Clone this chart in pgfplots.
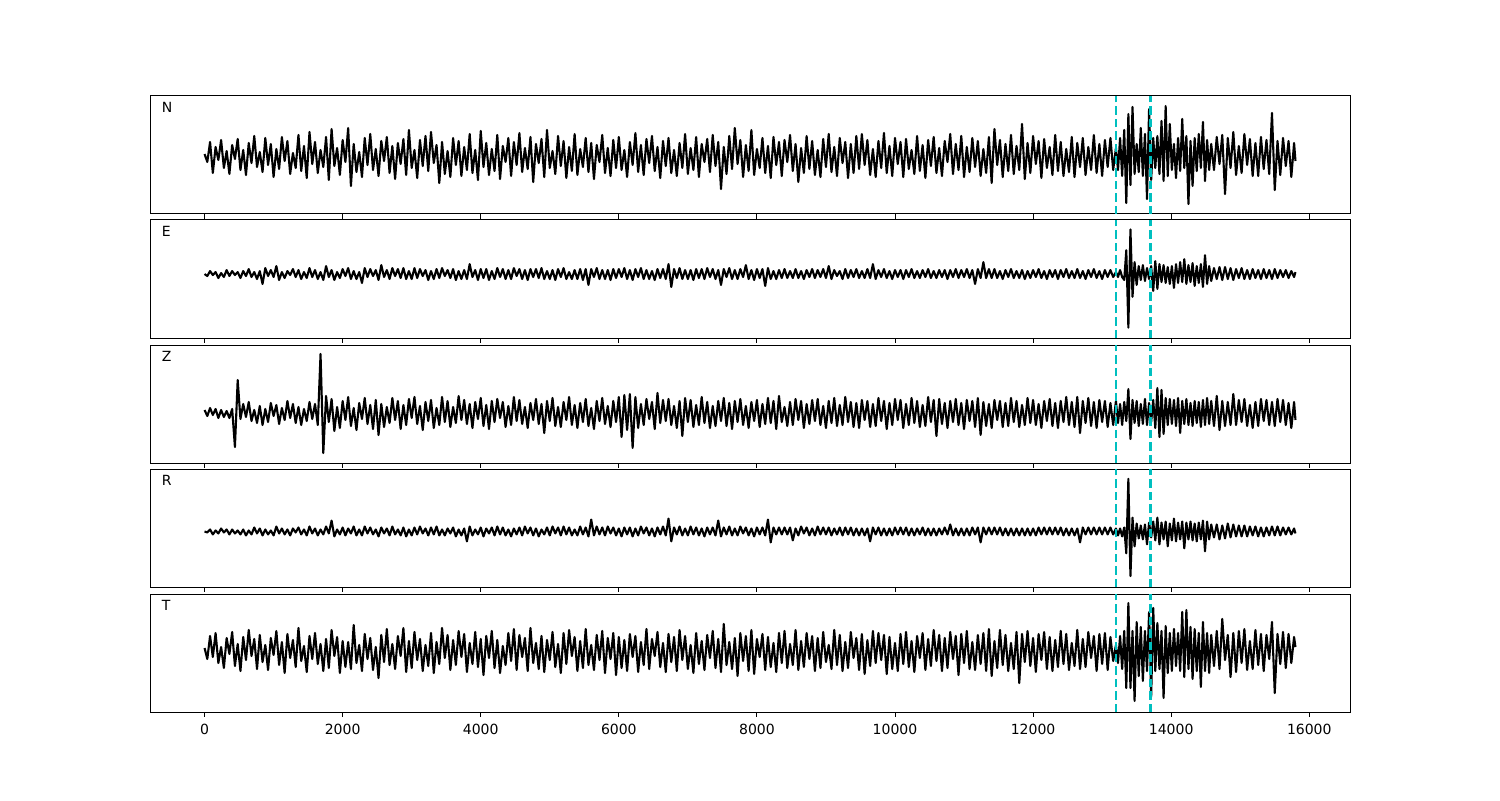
\documentclass[border=0pt]{standalone}
\usepackage{fontspec}
\setmainfont{DejaVu Sans}
\usepackage{pgfplots}
\usepackage{pgfplotstable}
\pgfplotsset{compat=1.18}
\definecolor{mplc}{rgb}{0,0.75,0.75}
\pgfplotstableread{
x N E Z R T
0 2 0 3 0 3
40 -6 -2 -3 -1 -8
80 14 3 5 2 15
120 -17 -1 -2 -3 -6
160 9 2 4 1 18
200 -4 -4 -5 -2 -12
240 16 1 3 3 4
280 -12 -3 -4 -1 -17
320 5 4 2 2 13
360 -18 -2 -5 -3 -3
400 11 3 4 2 19
440 -3 -1 -34 -2 -15
480 17 2 33 1 7
520 -14 -4 -6 -3 -20
560 6 3 9 2 14
600 -19 -2 -4 -4 -9
640 13 5 11 1 21
680 -7 -3 -8 -3 -5
720 20 2 3 4 12
760 -11 -5 -10 -2 -18
800 4 3 7 3 16
840 -16 -10 -12 -4 -11
880 18 6 4 2 6
920 -9 -2 -9 -3 -19
960 12 4 10 1 13
1000 -21 -3 -3 -4 -4
1040 7 8 8 5 20
1080 -13 -6 -11 -2 -14
1120 19 2 5 3 9
1160 -5 -4 -7 -3 -22
1200 15 3 12 2 17
1240 -18 -1 -5 -4 -7
1280 3 5 9 3 11
1320 -12 -3 -10 -1 -16
1360 21 4 6 4 23
1400 -15 -5 -12 -3 -10
1440 10 2 4 2 5
1480 -22 -4 -8 -4 -21
1520 24 6 11 5 15
1560 -8 -3 -6 -2 -8
1600 14 4 9 3 18
1640 -17 -5 -12 -4 -13
1680 6 2 59 2 7
1720 -11 -6 -40 -3 -20
1760 19 8 17 5 12
1800 -24 -3 -9 -2 -17
1840 27 4 14 11 21
1880 -10 -6 -18 -5 -5
1920 8 2 6 2 14
1960 -19 -4 -15 -3 -22
2000 16 5 12 4 10
2040 -6 -2 -7 -4 -16
2080 28 6 16 3 9
2120 -30 -5 -13 -2 -18
2160 12 3 5 5 26
2200 -16 -5 -17 -4 -12
2240 4 2 10 2 6
2280 -21 -9 -6 -4 -20
2320 18 6 15 5 17
2360 -9 -3 -11 -2 -8
2400 22 5 8 4 13
2440 -14 -2 -16 -3 -19
2480 7 4 13 2 4
2520 -20 -6 -22 -5 -27
2560 15 9 9 4 16
2600 -5 -3 -14 -2 -11
2640 19 4 6 3 22
2680 -17 -5 -10 -4 -14
2720 10 6 15 5 7
2760 -23 -2 -7 -3 -18
2800 13 5 12 2 15
2840 -8 -4 -16 -4 -5
2880 17 6 8 4 23
2920 -19 -5 -12 -5 -21
2960 26 3 14 2 10
3000 -12 -5 -5 -4 -17
3040 6 6 16 4 19
3080 -22 -4 -11 -3 -9
3120 16 5 7 5 12
3160 -10 -2 -17 -2 -20
3200 20 4 11 3 6
3240 -15 -6 -8 -4 -15
3280 24 3 13 4 18
3320 -7 -5 -15 -3 -22
3360 11 5 5 5 9
3400 -27 -4 -12 -4 -13
3440 14 6 16 2 23
3480 -18 -2 -9 -4 -7
3520 5 4 12 3 16
3560 -21 -4 -14 -2 -19
3600 18 5 6 4 11
3640 -9 -6 -10 -5 -14
3680 15 3 17 2 20
3720 -20 -5 -7 -4 -6
3760 9 4 13 3 17
3800 -14 -5 -11 -10 -21
3840 22 10 9 5 8
3880 -17 -3 -15 -4 -13
3920 6 4 11 2 19
3960 -24 -6 -6 -3 -16
4000 25 5 15 4 12
4040 -11 -4 -13 -5 -24
4080 13 5 8 3 15
4120 -19 -6 -16 -2 -7
4160 7 3 12 4 20
4200 -15 -5 -9 -4 -17
4240 21 6 14 5 11
4280 -23 -3 -5 -3 -22
4320 10 5 11 4 5
4360 -6 -5 -14 -4 -14
4400 18 4 7 2 18
4440 -20 -5 -12 -5 -10
4480 14 6 16 3 22
4520 -9 -2 -8 -3 -19
4560 23 5 13 4 16
4600 -16 -5 -11 -4 -6
4640 8 4 6 5 13
4680 -13 -6 -15 -2 -20
4720 19 5 10 4 23
4760 -26 -3 -7 -4 -12
4800 12 5 14 3 8
4840 -7 -4 -11 -5 -18
4880 17 6 9 2 15
4920 -21 -5 -20 -3 -21
4960 26 3 12 4 11
5000 -12 -5 -8 -4 -9
5040 5 4 15 5 19
5080 -18 -6 -13 -2 -16
5120 20 5 6 4 7
5160 -10 -3 -14 -4 -22
5200 15 6 11 5 18
5240 -22 -5 -7 -3 -13
5280 9 2 16 4 21
5320 -15 -5 -12 -4 -5
5360 22 4 8 2 14
5400 -19 -5 -15 -4 -20
5440 7 5 10 5 10
5480 -11 -6 -9 -3 -17
5520 18 5 14 4 22
5560 -16 -11 -13 -5 -14
5600 13 5 5 12 6
5640 -23 -3 -16 -4 -19
5680 11 6 12 5 16
5720 -6 -5 -8 -3 -9
5760 21 4 15 4 20
5800 -17 -5 -11 -4 -22
5840 8 4 7 5 13
5880 -20 -6 -14 -2 -8
5920 16 5 12 4 18
5960 -12 -4 -9 -4 -24
6000 19 5 16 3 14
6040 -14 -3 -24 -5 -17
6080 6 6 18 4 11
6120 -21 -5 -17 -3 -20
6160 14 4 19 4 17
6200 -9 -6 -35 -5 -6
6240 23 5 16 3 15
6280 -16 -3 -15 -4 -21
6320 11 6 9 5 9
6360 -19 -5 -12 -2 -14
6400 17 4 14 4 22
6440 -7 -5 -6 -4 -18
6480 20 3 11 3 12
6520 -15 -6 -16 -5 -5
6560 9 5 20 4 19
6600 -22 -4 -10 -3 -16
6640 15 5 13 5 8
6680 -10 -5 -8 -4 -21
6720 18 10 14 13 17
6760 -17 -13 -12 -10 -11
6800 6 5 7 4 14
6840 -20 -4 -15 -3 -20
6880 13 6 12 5 21
6920 -12 -5 -23 -4 -9
6960 22 4 15 3 15
7000 -18 -5 -9 -4 -18
7040 8 4 13 5 6
7080 -14 -6 -14 -3 -22
7120 19 5 8 4 18
7160 -21 -4 -12 -4 -13
7200 12 5 16 3 10
7240 -6 -5 -10 -5 -19
7280 17 6 11 4 16
7320 -16 -3 -15 -3 -7
7360 21 5 7 4 20
7400 -10 -5 -13 -4 -17
7440 14 4 12 11 12
7480 -33 -11 -8 -5 -21
7520 9 5 15 4 27
7560 -18 -3 -13 -3 -14
7600 20 6 10 5 9
7640 -13 -5 -16 -4 -18
7680 28 4 12 3 13
7720 -8 -5 -9 -4 -25
7760 16 5 14 5 18
7800 -21 -3 -12 -2 -10
7840 11 9 7 4 15
7880 -15 -5 -15 -4 -20
7920 26 4 11 3 21
7960 -19 -6 -8 -5 -23
8000 7 5 13 4 12
8040 -12 -4 -14 -3 -6
8080 18 5 9 4 17
8120 -17 -12 -11 -4 -19
8160 10 6 15 12 14
8200 -22 -5 -10 -11 -16
8240 19 3 12 4 8
8280 -9 -5 -16 -3 -21
8320 14 4 17 4 18
8360 -20 -4 -9 -3 -12
8400 16 5 6 4 20
8440 -6 -4 -13 -3 -17
8480 21 3 11 4 7
8520 -15 -4 -12 -9 -14
8560 12 5 14 3 21
8600 -26 -4 -7 -4 -19
8640 8 3 12 5 10
8680 -17 -5 -15 -2 -16
8720 20 4 9 4 18
8760 -13 -3 -11 -4 -8
8800 15 5 13 3 15
8840 -19 -4 -8 -4 -20
8880 6 4 14 5 13
8920 -21 -3 -12 -3 -17
8960 17 5 7 4 19
9000 -11 -4 -15 -3 -11
9040 22 8 12 4 6
9080 -16 -5 -10 -4 -18
9120 9 4 15 3 21
9160 -20 -2 -13 -3 -14
9200 18 3 8 4 16
9240 -7 -5 -12 -4 -20
9280 14 5 16 4 9
9320 -22 -4 -9 -3 -17
9360 12 4 11 4 19
9400 -17 -3 -14 -4 -7
9440 20 5 10 3 13
9480 -13 -4 -15 -4 -19
9520 22 3 13 3 17
9560 -9 -4 -7 -4 -23
9600 16 5 12 3 11
9640 -19 -4 -14 -10 -15
9680 7 10 9 4 20
9720 -21 -5 -13 -3 -12
9760 15 4 15 4 18
9800 -12 -3 -8 -4 -9
9840 23 5 12 3 16
9880 -17 -4 -16 -4 -23
9920 10 3 10 3 14
9960 -20 -5 -12 -4 -18
10000 18 4 14 4 8
10040 -8 -3 -7 -3 -20
10080 14 4 13 4 17
10120 -21 -5 -15 -3 -13
10160 17 4 9 4 19
10200 -13 -3 -12 -4 -16
10240 6 5 15 3 10
10280 -18 -4 -10 -4 -21
10320 20 3 12 3 15
10360 -15 -4 -14 -3 -7
10400 11 4 8 4 18
10440 -22 -3 -13 -4 -19
10480 16 5 16 3 12
10520 -10 -4 -9 -4 -15
10560 19 3 13 3 21
10600 -17 -4 -23 -4 -10
10640 8 4 14 3 16
10680 -20 -3 -11 -3 -20
10720 15 4 10 4 13
10760 -6 -5 -15 -3 -17
10800 22 4 12 7 19
10840 -18 -3 -9 -4 -8
10880 12 5 14 3 15
10920 -14 -4 -12 -4 -24
10960 20 4 10 3 17
11000 -21 -3 -16 -4 -12
11040 9 5 13 3 20
11080 -16 -4 -8 -4 -18
11120 18 4 12 4 9
11160 -11 -10 -14 -3 -19
11200 15 5 15 4 16
11240 -20 -4 -22 -11 -13
11280 7 12 11 4 18
11320 -17 -4 -13 -3 -20
11360 19 5 9 4 22
11400 -27 -4 -15 -3 -25
11440 27 5 13 4 10
11480 -9 -4 -7 -3 -17
11520 16 3 12 4 21
11560 -21 -5 -14 -4 -14
11600 12 4 10 3 16
11640 -15 -3 -13 -4 -20
11680 21 5 15 3 8
11720 -18 -4 -9 -4 -18
11760 10 3 12 3 19
11800 -14 -4 -14 -4 -32
11840 32 4 8 3 17
11880 -23 -5 -12 -4 -11
11920 13 3 15 3 20
11960 -17 -4 -10 -4 -15
12000 20 4 13 3 13
12040 -8 -3 -12 -4 -21
12080 15 5 9 4 17
12120 -22 -4 -15 -3 -9
12160 17 3 12 4 19
12200 -12 -5 -8 -3 -18
12240 9 4 14 4 14
12280 -19 -3 -13 -3 -20
12320 21 4 10 4 11
12360 -15 -5 -15 -3 -16
12400 14 4 12 4 20
12440 -20 -3 -9 -4 -13
12480 7 5 16 3 17
12520 -16 -4 -12 -4 -19
12560 19 3 11 3 8
12600 -21 -4 -14 -4 -15
12640 13 5 16 3 21
12680 -11 -4 -20 -11 -18
12720 18 3 12 4 12
12760 -19 -5 -10 -3 -16
12800 9 4 15 4 19
12840 -14 -3 -13 -3 -7
12880 21 5 11 4 15
12920 -17 -4 -15 -3 -20
12960 12 3 13 4 17
13000 -20 -5 -9 -3 -13
13040 16 4 12 4 18
13080 -11 -3 -14 -3 -19
13120 18 4 10 4 14
13160 -14 -3 -12 -3 -10
13200 8 2 12 3 6
13230 -14 -3 -10 -4 -12
13260 18 4 9 3 15
13290 -20 -3 -12 -5 -18
13320 26 -6 11 4 20
13350 -47 24 -8 -22 -37
13380 42 -54 24 53 48
13410 -29 45 -26 -45 -37
13440 49 -23 13 14 20
13470 -18 12 -10 -15 -50
13500 12 -11 12 8 29
13530 -16 8 -13 -7 -25
13560 28 -6 9 6 24
13590 -20 9 -11 -8 -30
13620 22 -7 14 7 20
13650 -43 6 -12 -13 -20
13680 47 -5 10 9 39
13710 -24 8 -9 -6 -46
13740 18 -17 13 10 43
13770 -12 13 -15 -9 -20
13800 20 -15 25 14 28
13830 -18 10 -24 -13 -18
13860 35 -8 23 9 20
13890 -25 9 -21 -8 -47
13920 50 -9 15 10 25
13950 -20 7 -12 -15 -22
13980 32 -10 14 8 18
14010 -14 8 -11 -9 -20
14040 12 -14 13 13 22
14070 -22 10 -13 -10 -15
14100 18 -9 15 9 18
14130 -15 12 -20 -8 -20
14160 37 -8 12 10 39
14190 -12 15 -11 -17 -26
14220 20 -10 14 9 41
14250 -48 9 -12 -8 -18
14280 15 -8 10 10 24
14310 -30 11 -13 -9 -28
14340 18 -12 12 8 22
14370 -15 8 -10 -10 -20
14400 22 -9 11 9 18
14430 -12 10 -14 -8 -36
14460 34 -13 13 11 29
14490 -25 19 -12 -20 -20
14520 16 -10 15 10 18
14550 -14 8 -11 -8 -22
14580 12 -7 12 7 16
14620 -14 6 -13 -6 -15
14660 19 -5 17 7 20
14700 -8 7 -17 -8 -18
14740 21 -6 12 6 32
14780 -38 7 -13 -7 -9
14820 18 -5 11 8 16
14860 -12 6 -12 -6 -26
14900 24 -6 19 7 18
14940 -19 5 -12 -5 -21
14980 10 -4 13 6 20
15020 -17 6 -9 -5 -12
15060 22 -5 14 6 22
15100 -9 4 -13 -5 -19
15140 17 -5 8 5 10
15180 -20 5 -15 -4 -18
15220 13 -4 11 5 21
15260 -20 4 -13 -5 -14
15300 19 -5 14 4 17
15340 -13 5 -8 -5 -20
15380 16 -4 13 4 16
15420 -18 4 -12 -4 -8
15460 43 -5 11 5 29
15500 -34 5 -13 -4 -42
15540 15 -4 14 5 17
15580 -19 4 -9 -4 -13
15620 18 -3 13 4 19
15660 -10 4 -12 -3 -17
15700 15 -4 10 4 17
15740 -21 3 -15 -3 -12
15780 13 -3 11 3 14
15800 -5 2 -7 -2 4
}\data
\pgfplotsset{
  panel/.style={
    scale only axis, width=600pt, height=59pt,
    xmin=-790, xmax=16590,
    ytick=\empty,
    xtick={0,2000,...,16000},
    scaled x ticks=false,
    tick align=outside, xtick pos=left,
    major tick length=2.4pt,
    axis line style={line width=0.5pt},
    every tick/.style={black, line width=0.5pt},
    tick label style={font=\fontsize{7}{8}\selectfont},
    /pgf/number format/assume math mode=true,
    /pgf/number format/set thousands separator={},
    clip=false,
  },
  trace/.style={black, line width=1.05pt, line join=round, no marks},
  pick/.style={mplc, line width=1.2pt, dash pattern=on 4.2pt off 2pt, no marks},
}
\begin{document}
\begin{tikzpicture}
\useasboundingbox (0,0) rectangle (750pt,400pt);
% N
\begin{axis}[panel, at={(75pt,352pt)}, anchor=north west, ymin=-58, ymax=60, xticklabels={}]
\addplot[trace] table[x=x,y=N]{\data};
\addplot[pick] coordinates {(13200,-58) (13200,60)};
\addplot[pick] coordinates {(13700,-58) (13700,60)};
\node[anchor=west, inner sep=0pt, font=\fontsize{7}{8}\selectfont] at (rel axis cs:0.0095,0.9) {N};
\end{axis}
% E
\begin{axis}[panel, at={(75pt,290pt)}, anchor=north west, ymin=-64.5, ymax=54.5, xticklabels={}]
\addplot[trace] table[x=x,y=E]{\data};
\addplot[pick] coordinates {(13200,-64.5) (13200,54.5)};
\addplot[pick] coordinates {(13700,-64.5) (13700,54.5)};
\node[anchor=west, inner sep=0pt, font=\fontsize{7}{8}\selectfont] at (rel axis cs:0.0095,0.9) {E};
\end{axis}
% Z
\begin{axis}[panel, at={(75pt,227.5pt)}, anchor=north west, ymin=-50, ymax=68, xticklabels={}]
\addplot[trace] table[x=x,y=Z]{\data};
\addplot[pick] coordinates {(13200,-50) (13200,68)};
\addplot[pick] coordinates {(13700,-50) (13700,68)};
\node[anchor=west, inner sep=0pt, font=\fontsize{7}{8}\selectfont] at (rel axis cs:0.0095,0.9) {Z};
\end{axis}
% R
\begin{axis}[panel, at={(75pt,165.5pt)}, anchor=north west, ymin=-56, ymax=63, xticklabels={}]
\addplot[trace] table[x=x,y=R]{\data};
\addplot[pick] coordinates {(13200,-56) (13200,63)};
\addplot[pick] coordinates {(13700,-56) (13700,63)};
\node[anchor=west, inner sep=0pt, font=\fontsize{7}{8}\selectfont] at (rel axis cs:0.0095,0.9) {R};
\end{axis}
% T
\begin{axis}[panel, at={(75pt,103pt)}, anchor=north west, ymin=-61, ymax=57]
\addplot[trace] table[x=x,y=T]{\data};
\addplot[pick] coordinates {(13200,-61) (13200,57)};
\addplot[pick] coordinates {(13700,-61) (13700,57)};
\node[anchor=west, inner sep=0pt, font=\fontsize{7}{8}\selectfont] at (rel axis cs:0.0095,0.9) {T};
\end{axis}
\end{tikzpicture}
\end{document}
